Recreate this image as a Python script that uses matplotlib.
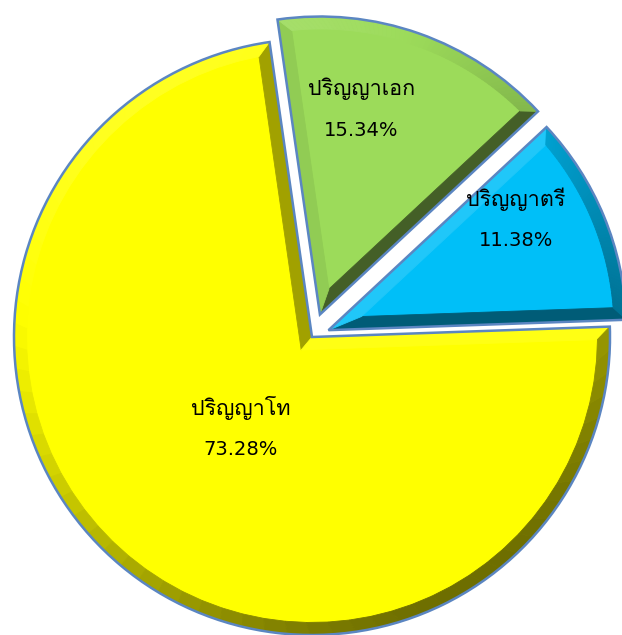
import numpy as np
import matplotlib
matplotlib.use("Agg")
import matplotlib.pyplot as plt
from matplotlib.patches import Polygon, Wedge
from matplotlib.colors import to_rgb

labels = ["ปริญญาตรี", "ปริญญาเอก", "ปริญญาโท"]
shares = [11.38, 15.34, 73.28]
colors = ["#00bff8", "#9cdb5a", "#ffff00"]
explode = [0.06, 0.08, 0.0]

# where the two text lines sit inside each slice
text_r = [0.73, 0.70, 0.39]
text_turn = [8, 8, 2]

plt.rcParams['font.family'] = ['DejaVu Sans', 'Loma']

light = np.array([-0.55, 0.83])
light = light / np.linalg.norm(light)


def shade(col, ang):
    n = np.array([np.cos(np.radians(ang)), np.sin(np.radians(ang))])
    s = n @ light
    f = 0.78 + 0.35 * s
    rgb = np.array(to_rgb(col))
    if f <= 1:
        return tuple(rgb * f)
    return tuple(rgb + (1 - rgb) * (f - 1))


def unit(ang):
    a = np.radians(ang)
    return np.array([np.cos(a), np.sin(a)])


def add_bevel(ax, w, col, d=0.042, n=60):
    c = np.array(w.center)
    r = w.r
    t1, t2 = w.theta1, w.theta2
    half = (t2 - t1) / 2
    mid = t1 + half
    R = r - d
    dl = np.degrees(np.arcsin(d / R))
    V = c + d / np.sin(np.radians(half)) * unit(mid)
    kw = dict(linewidth=0.6, zorder=2)
    col1 = shade(col, t1 - 90)
    ax.add_patch(Polygon([c, c + r * unit(t1), c + R * unit(t1 + dl), V],
                         facecolor=col1, edgecolor=col1, **kw))
    col2 = shade(col, t2 + 90)
    ax.add_patch(Polygon([c, V, c + R * unit(t2 - dl), c + r * unit(t2)],
                         facecolor=col2, edgecolor=col2, **kw))
    a = np.linspace(t1, t2, n + 1)
    b = np.linspace(t1 + dl, t2 - dl, n + 1)
    for i in range(n):
        cc = shade(col, (a[i] + a[i + 1]) / 2)
        ax.add_patch(Polygon([c + r * unit(a[i]), c + r * unit(a[i + 1]),
                              c + R * unit(b[i + 1]), c + R * unit(b[i])],
                             facecolor=cc, edgecolor=cc, **kw))


fig = plt.figure(figsize=(6.22, 6.35), dpi=100)
ax = fig.add_axes([0, 0, 1, 1])
wedges, _ = ax.pie(shares, colors=colors, explode=explode, startangle=2,
                   counterclock=True, wedgeprops=dict(linewidth=0))

for w, col, name, val, tr, turn in zip(wedges, colors, labels, shares, text_r, text_turn):
    add_bevel(ax, w, col)
    ax.add_patch(Wedge(w.center, w.r, w.theta1, w.theta2, fill=False,
                       edgecolor="#5b86c2", linewidth=1.8, zorder=3))
    mid = (w.theta1 + w.theta2) / 2 + turn
    p = np.array(w.center) + tr * w.r * unit(mid)
    ax.annotate(name, p, xytext=(0, 15), textcoords="offset points",
                ha="center", va="center", fontsize=15.5, family=['Loma'],
                color="black", zorder=4)
    ax.annotate(f"{val:.2f}%", p, xytext=(0, -15), textcoords="offset points",
                ha="center", va="center", fontsize=14, color="black", zorder=4)

ax.set_xlim(-312 / 298, 310 / 298)
ax.set_ylim(-298 / 298, 337 / 298)
ax.axis("off")
fig.savefig("out.png", dpi=100, facecolor="white")
